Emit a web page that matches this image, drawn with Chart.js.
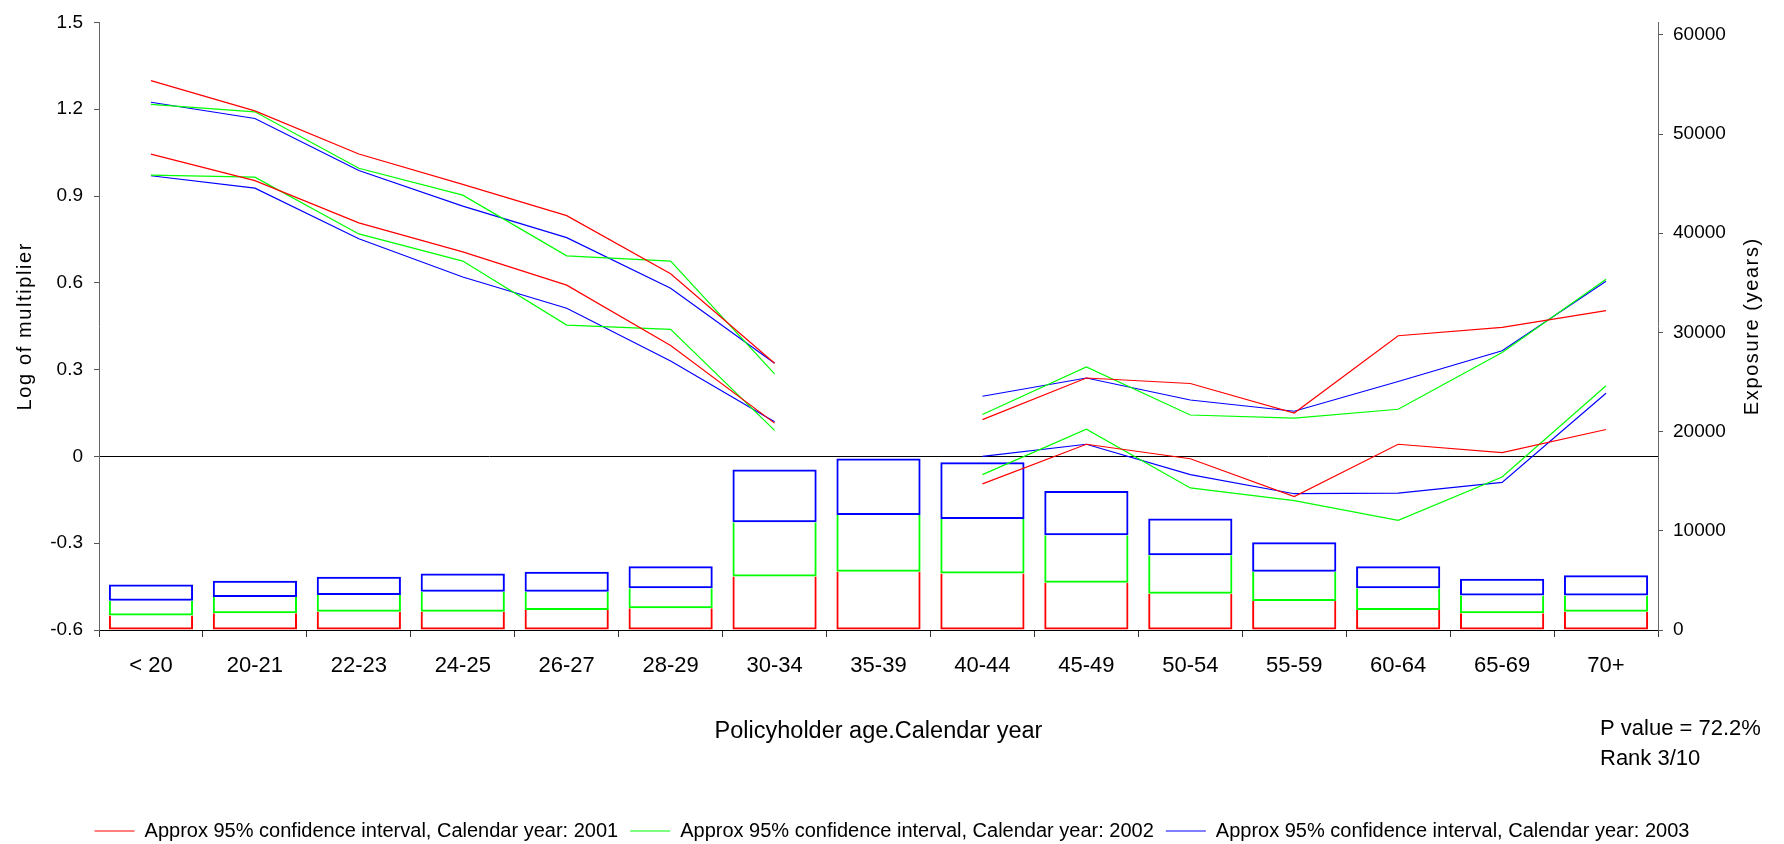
<!DOCTYPE html>
<html>
<head>
<meta charset="utf-8">
<script src="https://cdn.jsdelivr.net/npm/chart.js@4/dist/chart.umd.min.js"></script>
<style>
    body { margin: 0; background: #fff; }
    canvas { display: block; }
</style>
</head>
<body>
<canvas id="ageChart" width="1784" height="844"></canvas>
<script>
const categories = ['< 20', '20-21', '22-23', '24-25', '26-27', '28-29', '30-34', '35-39',
    '40-44', '45-49', '50-54', '55-59', '60-64', '65-69', '70+'];

// confidence interval bounds (log of multiplier), no estimate for 35-39
const upper2001 = [1.299, 1.194, 1.045, 0.940, 0.832, 0.631, 0.322, null, 0.127, 0.271, 0.252, 0.150, 0.417, 0.446, 0.504];
const lower2001 = [1.045, 0.953, 0.807, 0.707, 0.592, 0.383, 0.115, null, -0.095, 0.042, -0.008, -0.139, 0.042, 0.013, 0.093];
const upper2002 = [1.217, 1.191, 0.996, 0.903, 0.693, 0.675, 0.285, null, 0.145, 0.309, 0.143, 0.132, 0.163, 0.359, 0.612];
const lower2002 = [0.972, 0.965, 0.769, 0.675, 0.454, 0.439, 0.090, null, -0.063, 0.094, -0.109, -0.153, -0.221, -0.071, 0.244];
const upper2003 = [1.224, 1.168, 0.988, 0.865, 0.756, 0.581, 0.322, null, 0.208, 0.271, 0.195, 0.156, 0.259, 0.365, 0.605];
const lower2003 = [0.970, 0.927, 0.752, 0.620, 0.512, 0.330, 0.120, null, 0.000, 0.042, -0.063, -0.129, -0.127, -0.090, 0.218];

// exposure (years) per calendar year, stacked
const exposure2001 = [1470, 1680, 1840, 1840, 2010, 2180, 5390, 5860, 5700, 4760, 3650, 2920, 2010, 1680, 1840];
const exposure2002 = [1480, 1640, 1680, 2010, 1840, 2040, 5460, 5730, 5490, 4790, 3890, 2950, 2210, 1810, 1640];
const exposure2003 = [1640, 1640, 1840, 1840, 2010, 2210, 5330, 5700, 5730, 4460, 3690, 2980, 2210, 1680, 2040];

const exposureTicks = [0, 10000, 20000, 30000, 40000, 50000, 60000];

const RED = '#ff0000', GREEN = '#00ff00', BLUE = '#0000ff';
const FONT = '"Liberation Sans", Arial, sans-serif';

Chart.defaults.font.family = FONT;
Chart.defaults.color = '#000';

function ciLine(label, data, color) {
    return {
        type: 'line',
        label: label,
        data: data,
        yAxisID: 'y',
        borderColor: color,
        backgroundColor: color,
        borderWidth: 1.2,
        pointRadius: 0,
        tension: 0,
        spanGaps: false,
        order: 1
    };
}

function exposureBar(label, data, color, top) {
    return {
        type: 'bar',
        label: label,
        data: data,
        yAxisID: 'y2',
        backgroundColor: 'rgba(0,0,0,0)',
        borderColor: color,
        borderWidth: {top: top, left: 2, right: 2, bottom: 2},
        borderSkipped: false,
        barPercentage: 0.81,
        categoryPercentage: 1,
        order: 2
    };
}

// axis titles and the P value note
const extraText = {
    id: 'extraText',
    afterDraw(chart) {
        const c = chart.ctx;
        const area = chart.chartArea;
        const midY = (area.top + area.bottom) / 2;
        c.save();
        c.fillStyle = '#000';
        c.textAlign = 'center';
        c.textBaseline = 'middle';
        c.font = '20px ' + FONT;
        c.letterSpacing = '1.6px';

        c.save();
        c.translate(25, midY);
        c.rotate(-Math.PI / 2);
        c.fillText('Log of multiplier', 0, 0);
        c.restore();

        c.save();
        c.translate(1752, midY);
        c.rotate(-Math.PI / 2);
        c.fillText('Exposure (years)', 0, 0);
        c.restore();

        c.letterSpacing = '0px';
        c.textBaseline = 'alphabetic';
        c.font = '23.5px ' + FONT;
        c.fillText('Policyholder age.Calendar year', (area.left + area.right) / 2, 738);

        c.textAlign = 'left';
        c.font = '22px ' + FONT;
        c.fillText('P value = 72.2%', 1600, 735);
        c.fillText('Rank 3/10', 1600, 765);
        c.restore();
    }
};

const ctx = document.getElementById('ageChart').getContext('2d');
const ageChart = new Chart(ctx, {
    type: 'bar',
    data: {
        labels: categories,
        datasets: [
            ciLine('Approx 95% confidence interval, Calendar year: 2001', upper2001, RED),
            ciLine('Approx 95% confidence interval, Calendar year: 2001', lower2001, RED),
            ciLine('Approx 95% confidence interval, Calendar year: 2002', upper2002, GREEN),
            ciLine('Approx 95% confidence interval, Calendar year: 2002', lower2002, GREEN),
            ciLine('Approx 95% confidence interval, Calendar year: 2003', upper2003, BLUE),
            ciLine('Approx 95% confidence interval, Calendar year: 2003', lower2003, BLUE),
            exposureBar('Exposure 2001', exposure2001, RED, 0),
            exposureBar('Exposure 2002', exposure2002, GREEN, 0),
            exposureBar('Exposure 2003', exposure2003, BLUE, 2)
        ]
    },
    options: {
        responsive: false,
        animation: false,
        devicePixelRatio: 1,
        layout: {
            padding: {top: 20, left: 0, right: 0, bottom: -7}
        },
        plugins: {
            tooltip: {enabled: false},
            legend: {
                position: 'bottom',
                labels: {
                    usePointStyle: true,
                    pointStyle: 'line',
                    pointStyleWidth: 40,
                    padding: 12,
                    color: '#000',
                    font: {size: 20},
                    filter: item => [0, 2, 4].includes(item.datasetIndex)
                }
            }
        },
        scales: {
            x: {
                stacked: true,
                offset: true,
                afterFit: scale => { scale.height = 179; },
                grid: {
                    offset: true,
                    drawOnChartArea: false,
                    tickLength: 7,
                    tickColor: '#333'
                },
                border: {color: '#000'},
                ticks: {
                    autoSkip: false,
                    maxRotation: 0,
                    padding: 16,
                    color: '#000',
                    font: {size: 22}
                }
            },
            y: {
                position: 'left',
                min: -0.6,
                max: 1.5,
                afterFit: scale => { scale.width = 99; },
                grid: {
                    color: c => (c.tick && c.tick.value === 0) ? '#000' : 'rgba(0,0,0,0)',
                    tickColor: '#555',
                    tickLength: 5
                },
                border: {color: '#666'},
                ticks: {
                    stepSize: 0.3,
                    padding: 11,
                    color: '#000',
                    font: {size: 19},
                    callback: v => String(Math.round(v * 10) / 10)
                }
            },
            y2: {
                position: 'right',
                stacked: true,
                min: 0,
                max: 61250,
                afterFit: scale => { scale.width = 126; },
                afterBuildTicks: scale => {
                    scale.ticks = exposureTicks.map(v => ({value: v}));
                },
                grid: {
                    drawOnChartArea: false,
                    tickColor: '#555',
                    tickLength: 5
                },
                border: {color: '#666'},
                ticks: {
                    padding: 10,
                    color: '#000',
                    font: {size: 19},
                    callback: v => String(v)
                }
            }
        }
    },
    plugins: [extraText]
});
</script>
</body>
</html>
